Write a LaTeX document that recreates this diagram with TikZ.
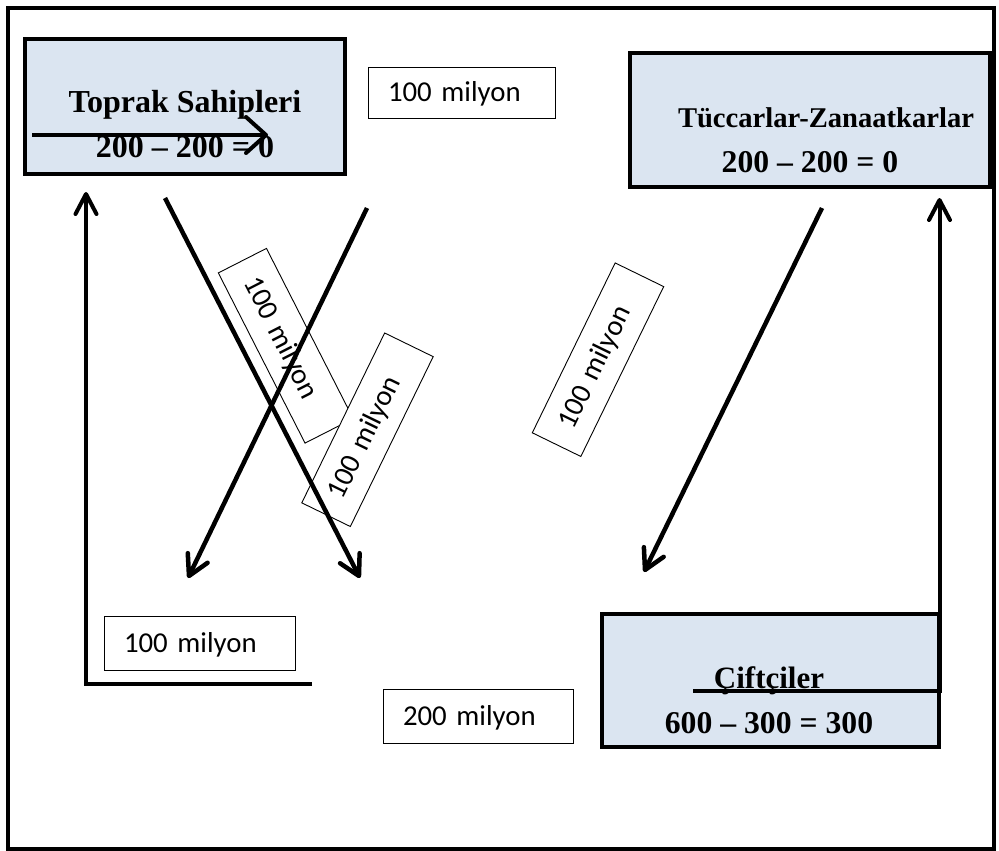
\documentclass[tikz,border=0pt]{standalone}
\usepackage{fontspec}
\setmainfont{Liberation Serif}
\newfontfamily\lblfont{Carlito}
\usetikzlibrary{arrows.meta}
\definecolor{boxfill}{HTML}{DBE5F1}
\begin{document}
\begin{tikzpicture}[x=1pt,y=-1pt,
  frame/.style={draw=black, line width=4pt, inner sep=0pt},
  group/.style={draw=black, line width=3.5pt, fill=boxfill, inner sep=0pt},
  title/.style={anchor=base, inner sep=0pt, font=\bfseries\fontsize{#1}{#1}\selectfont},
  amount/.style={draw=black, line width=0.9pt, fill=white, inner xsep=20pt, inner ysep=0pt,
    text width=#1, align=left, text height=22pt, text depth=4pt, minimum height=54pt,
    font=\lblfont\fontsize{28.8}{30}\selectfont},
  flow/.style={line width=4.5pt, -{Straight Barb[length=20pt,width=22pt,round]}},
  ret/.style={line width=4pt, line join=miter, -{Straight Barb[length=20pt,width=21pt,round]}},
  marker/.style={line width=4pt, -{Straight Barb[length=20pt,width=36pt,round]}}
]
\useasboundingbox (0,0) rectangle (999,851);

% outer frame
\node[frame, minimum width=986pt, minimum height=841pt] (border) at (501,428.5) {};

% the three groups
\node[group, minimum width=320pt, minimum height=135pt] (owners) at (185,106.5) {};
\node[title=32] (ownersname) at (185,113) {Toprak Sahipleri};
\node[title=32] (ownersbal) at (185,157) {200 – 200 = 0};

\node[group, minimum width=360pt, minimum height=134pt] (traders) at (810,120) {};
\node[title=28.6] (tradersname) at (826,127) {Tüccarlar-Zanaatkarlar};
\node[title=31.7] (tradersbal) at (810,172) {200 – 200 = 0};

\node[group, minimum width=337pt, minimum height=133pt] (farmers) at (770.5,680.5) {};
\node[title=31] (farmersname) at (769,688) {Çiftçiler};
\node[title=31.7] (farmersbal) at (769,733) {600 – 300 = 300};

% amounts
\node[amount=147pt, minimum height=51pt] (amtTop) at (461.5,92.5) {100 milyon};
\node[amount=151pt] (amtLeft) at (199.5,643) {100 milyon};
\node[amount=150pt] (amtBottom) at (478,716) {200 milyon};
\node[amount=151pt, rotate=-63] (amtRotA) at (285.75,345.75) {100 milyon};
\node[amount=149pt, rotate=64] (amtRotB) at (367.5,429.75) {100 milyon};
\node[amount=149pt, rotate=64] (amtRotC) at (598,359.7) {100 milyon};

% connector ends
\coordinate (aS) at (165,198);  \coordinate (aE) at (360,578);
\coordinate (bS) at (367,208);  \coordinate (bE) at (188,578);
\coordinate (cS) at (822,208);  \coordinate (cE) at (644,572);
\coordinate (lS) at (312,684);  \coordinate (lC) at (86,684);   \coordinate (lE) at (86,192);
\coordinate (rS) at (693,690.5); \coordinate (rC) at (939.5,690.5); \coordinate (rE) at (939.5,198);
\coordinate (mS) at (32,135);   \coordinate (mE) at (268,135);

% flows
\draw[flow] (aS) -- (aE);
\draw[flow] (bS) -- (bE);
\draw[flow] (cS) -- (cE);
\draw[ret] (lS) -- (lC) -- (lE);
\draw[ret] (rS) -- (rC) -- (rE);
\draw[marker] (mS) -- (mE);
\end{tikzpicture}
\end{document}
